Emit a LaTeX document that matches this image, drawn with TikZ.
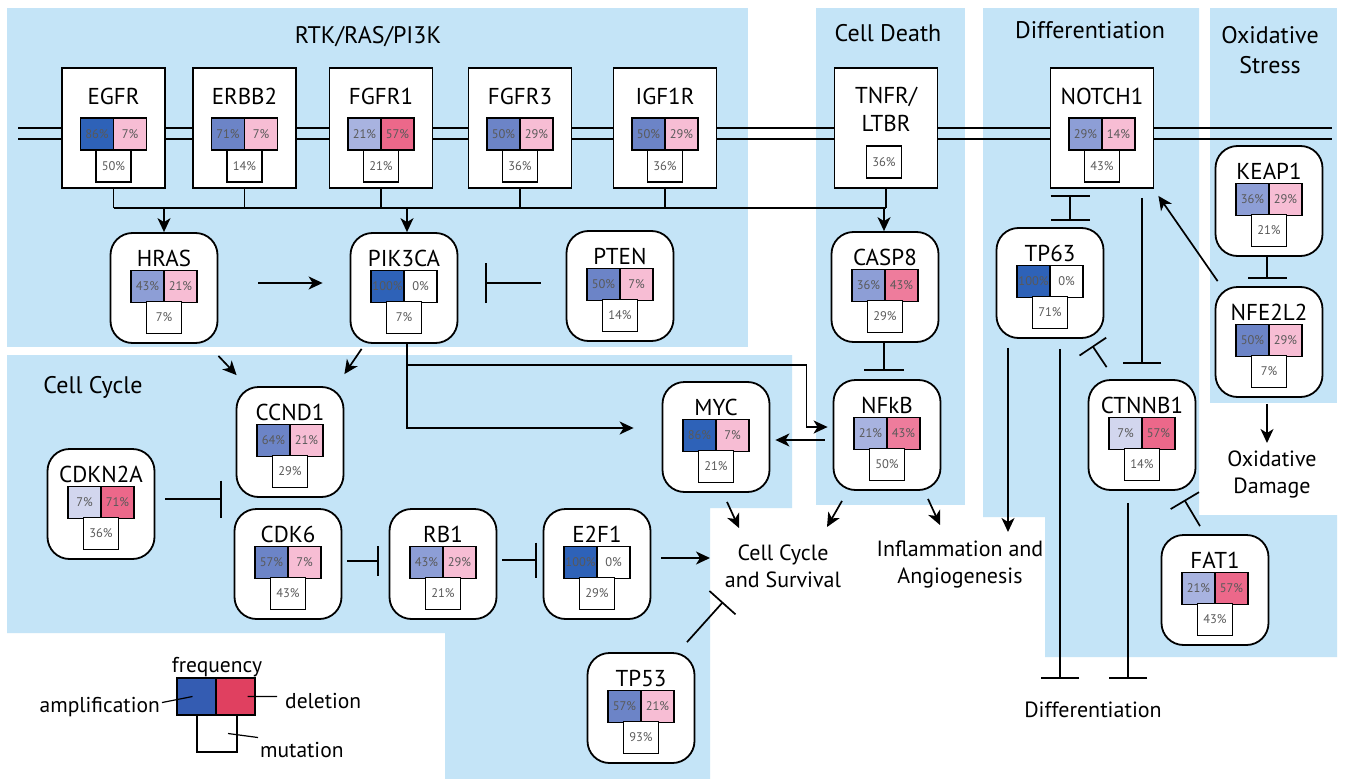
\documentclass[tikz,border=0pt]{standalone}
\usepackage{fontspec}
\setmainfont{PT Sans}
\usetikzlibrary{arrows.meta,calc}
\definecolor{bg}{RGB}{196,228,247}
\definecolor{aA}{RGB}{46,98,184}
\definecolor{aB}{RGB}{108,132,199}
\definecolor{aC}{RGB}{141,158,214}
\definecolor{aD}{RGB}{168,179,224}
\definecolor{aE}{RGB}{210,214,238}
\definecolor{dA}{RGB}{236,104,138}
\definecolor{dB}{RGB}{238,124,156}
\definecolor{dC}{RGB}{247,189,212}
\definecolor{legB}{RGB}{52,92,178}
\definecolor{legR}{RGB}{224,64,96}
\tikzset{
  rnode/.style={draw, fill=white, line width=1.8pt, rounded corners=22pt, minimum width=107pt, minimum height=110pt, inner sep=0pt},
  snode/.style={draw, fill=white, line width=1.8pt, minimum width=103pt, minimum height=120pt, inner sep=0pt},
  gtitle/.style={font=\fontsize{23}{23}\selectfont, inner sep=0pt, anchor=base},
  half/.style={draw, line width=1.5pt, minimum width=33pt, minimum height=32pt, inner sep=0pt, font=\fontsize{12.5}{12.5}\selectfont, text=black!65},
  mbox/.style={half, fill=white, minimum width=35pt},
  ln/.style={line width=1.7pt},
  arr/.style={ln, -{Stealth[length=14pt,width=13pt,inset=4pt]}},
  inh/.style={ln, -{Bar[width=#1,line width=1.7pt]}},
  inh/.default=38pt,
  ttl/.style={font=\fontsize{24}{24}\selectfont, inner sep=0pt, anchor=base},
  lbl/.style={font=\fontsize{22}{22}\selectfont, inner sep=0pt, anchor=base},
  leg/.style={font=\fontsize{21.5}{21.5}\selectfont, inner sep=0pt},
  legbox/.style={draw, line width=1.6pt, minimum width=39pt, minimum height=37pt, inner sep=0pt},
  legln/.style={line width=1.2pt},
  memb/.style={line width=1.8pt}
}
\newcommand{\rgene}[8]{%
  \node[rnode] (#1) at (#2) {};
  \node[gtitle] (#1-t) at ($(#1.north)+(0,34)$) {#3};
  \node[half, fill=#4] (#1-a) at ($(#1.north)+(-16.5,54.5)$) {#5};
  \node[half, fill=#6] (#1-d) at ($(#1.north)+(16.5,54.5)$) {#7};
  \node[mbox] (#1-m) at ($(#1.north)+(0,85.5)$) {#8};
}
\newcommand{\sgene}[8]{%
  \node[snode] (#1) at (#2) {};
  \node[gtitle] (#1-t) at ($(#1.north)+(0,37)$) {#3};
  \node[half, fill=#4] (#1-a) at ($(#1.north)+(-16.5,67)$) {#5};
  \node[half, fill=#6] (#1-d) at ($(#1.north)+(16.5,67)$) {#7};
  \node[mbox] (#1-m) at ($(#1.north)+(0,99)$) {#8};
}
\begin{document}
\begin{tikzpicture}[x=1pt,y=-1pt]
\useasboundingbox (0,0) rectangle (1345,779);
\fill[white] (0,0) rectangle (1345,779);
% regions
\fill[bg] (7,8) rectangle (748,347);
\fill[bg] (816,8) rectangle (965,505);
\fill[bg] (7,355) -- (792,355) -- (792,508) -- (710,508) -- (710,779) -- (445,779) -- (445,633) -- (7,633) -- cycle;
\fill[bg] (983,8) -- (1199,8) -- (1199,515) -- (1337,515) -- (1337,657) -- (1045,657) -- (1045,517) -- (983,517) -- cycle;
\fill[bg] (1210,8) rectangle (1337,403);
% region titles
\node[ttl] (tRTK) at (368,43) {RTK/RAS/PI3K};
\node[ttl] (tCD) at (888,41) {Cell Death};
\node[ttl] (tDIF) at (1090,38) {Differentiation};
\node[ttl] (tOX1) at (1270,43) {Oxidative};
\node[ttl] (tOX2) at (1270,73) {Stress};
\node[ttl] (tCC) at (93,393) {Cell Cycle};
% membrane
\coordinate (m1a) at (18,128); \coordinate (m1b) at (1332,128);
\coordinate (m2a) at (18,139); \coordinate (m2b) at (1332,139);
\draw[memb] (m1a) -- (m1b);
\draw[memb] (m2a) -- (m2b);
% receptors
\sgene{EGFR}{113.5,128}{EGFR}{aA}{86\%}{dC}{7\%}{50\%}
\sgene{ERBB2}{244.5,128}{ERBB2}{aB}{71\%}{dC}{7\%}{14\%}
\sgene{FGFR1}{381,128}{FGFR1}{aD}{21\%}{dA}{57\%}{21\%}
\sgene{FGFR3}{520,128}{FGFR3}{aB}{50\%}{dC}{29\%}{36\%}
\sgene{IGF1R}{665,128}{IGF1R}{aB}{50\%}{dC}{29\%}{36\%}
\sgene{NOTCH1}{1102,128}{NOTCH1}{aC}{29\%}{dC}{14\%}{43\%}
\node[snode] (TNFR) at (886,128) {};
\node[gtitle] (TNFR-t1) at ($(TNFR.north)+(0,36)$) {TNFR/};
\node[gtitle] (TNFR-t2) at ($(TNFR.north)+(0,64)$) {LTBR};
\node[mbox] (TNFR-m) at ($(TNFR.north)+(-2,95)$) {36\%};
% other genes
\rgene{HRAS}{164,288}{HRAS}{aC}{43\%}{dC}{21\%}{7\%}
\rgene{PIK3CA}{404,288}{PIK3CA}{aA}{100\%}{white}{0\%}{7\%}
\rgene{PTEN}{620,286}{PTEN}{aB}{50\%}{dC}{7\%}{14\%}
\rgene{CASP8}{885,287}{CASP8}{aC}{36\%}{dB}{43\%}{29\%}
\rgene{TP63}{1050,283}{TP63}{aA}{100\%}{white}{0\%}{71\%}
\rgene{KEAP1}{1269,201}{KEAP1}{aC}{36\%}{dC}{29\%}{21\%}
\rgene{NFE2L2}{1269,342}{NFE2L2}{aB}{50\%}{dC}{29\%}{7\%}
\rgene{CCND1}{290,442}{CCND1}{aB}{64\%}{dC}{21\%}{29\%}
\rgene{CDKN2A}{101,504}{CDKN2A}{aE}{7\%}{dA}{71\%}{36\%}
\rgene{CDK6}{288,564}{CDK6}{aB}{57\%}{dC}{7\%}{43\%}
\rgene{RB1}{443,564}{RB1}{aC}{43\%}{dC}{29\%}{21\%}
\rgene{E2F1}{597,564}{E2F1}{aA}{100\%}{white}{0\%}{29\%}
\rgene{MYC}{716,437}{MYC}{aA}{86\%}{dC}{7\%}{21\%}
\rgene{NFkB}{887,435}{NFkB}{aD}{21\%}{dB}{43\%}{50\%}
\rgene{CTNNB1}{1142,435}{CTNNB1}{aE}{7\%}{dA}{57\%}{14\%}
\rgene{FAT1}{1215,590}{FAT1}{aD}{21\%}{dA}{57\%}{43\%}
\rgene{TP53}{641,708}{TP53}{aB}{57\%}{dC}{21\%}{93\%}
% outcome labels
\node[lbl] (CCS1) at (783,560) {Cell Cycle};
\node[lbl] (CCS2) at (783,587) {and Survival};
\node[lbl] (INF1) at (960,556) {Inflammation and};
\node[lbl] (INF2) at (960,583) {Angiogenesis};
\node[lbl] (OXD1) at (1272,466) {Oxidative};
\node[lbl] (OXD2) at (1272,493) {Damage};
\node[lbl] (DIF) at (1093,717) {Differentiation};
\coordinate (ccsW) at (710,558);
\coordinate (ccsN1) at (739,528);
\coordinate (ccsN2) at (827,527);
\coordinate (ccsS) at (723,602);
\coordinate (infN) at (940,525);
\coordinate (infE) at (1008,532);
\coordinate (oxdN) at (1267,443);
\coordinate (dif1) at (1060,679);
\coordinate (dif2) at (1128,679);
% receptor bus
\coordinate (bus) at (0,208);
\foreach \r in {EGFR,ERBB2,FGFR1,FGFR3,IGF1R,TNFR} \draw[ln] (\r.south) -- (\r.south |- bus);
\draw[ln] (EGFR.south |- bus) -- (TNFR.south |- bus);
\draw[arr] (HRAS.north |- bus) -- (HRAS.north);
\draw[arr] ($(PIK3CA.north |- bus)+(3,0)$) -- ($(PIK3CA.north)+(3,0)$);
\draw[arr] ($(CASP8.north |- bus)+(-1,0)$) -- ($(CASP8.north)+(-1,0)$);
% RTK section
\draw[arr] ($(HRAS.east)+(40,-5)$) -- ($(PIK3CA.west)+(-27,-5)$);
\draw[inh=40pt] ($(PTEN.west)+(-25,-3)$) -- ($(PIK3CA.east)+(27,-5)$);
\draw[arr] ($(HRAS.south east)+(0,12)$) -- ($(CCND1.north west)+(1,-11)$);
\draw[arr] ($(PIK3CA.south west)+(12,5)$) -- ($(CCND1.north east)+(0,-12)$);
\draw[arr] ($(PIK3CA.south)+(3,0)$) |- ($(MYC.west)+(-28,-9)$);
\draw[arr] ($(PIK3CA.south)+(3,21)$) -| ($(NFkB.west)+(-26,-8)$) -- ($(NFkB.west)+(-5,-8)$);
\draw[arr] ($(NFkB.west)+(-8,5)$) -- ($(MYC.east)+(5,3)$);
\draw[inh=40pt] ($(CASP8.south)+(-1,0)$) -- ($(NFkB.north)+(-3,-8)$);
% cell cycle
\draw[inh=37pt] ($(CDKN2A.east)+(10,-5)$) -- ($($(CDK6.west)!0.5!(CCND1.west)$)+(-13,-4)$);
\draw[inh=30pt] ($(CDK6.east)+(5,-3)$) -- ($(RB1.west)+(-10,-3)$);
\draw[inh=35pt] ($(RB1.east)+(5,-4)$) -- ($(E2F1.west)+(-6,-4)$);
\draw[arr] ($(E2F1.east)+(10,-6)$) -- (ccsW);
\draw[arr] ($(MYC.south)+(11,9)$) -- (ccsN1);
\draw[arr] ($(NFkB.south)+(-45,10)$) -- (ccsN2);
\draw[arr] ($(NFkB.south)+(41,8)$) -- (infN);
\draw[inh=35pt] ($(TP53.north)+(46,-10)$) -- (ccsS);
% differentiation
\draw[ln, {Bar[width=39pt,line width=1.7pt]}-{Bar[width=39pt,line width=1.7pt]}] ($(NOTCH1.south)+(-32,6)$) -- ($(TP63.north)+(20,-6)$);
\draw[inh=38pt] ($(NOTCH1.south)+(40,9)$) -- ($(CTNNB1.north)+(0,-15)$);
\draw[arr] ($(NFE2L2.north west)+(3,-5)$) -- ($(NOTCH1.south east)+(4,7)$);
\draw[inh=39pt] ($(KEAP1.south)+(-2,0)$) -- ($(NFE2L2.north)+(-2,-7)$);
\draw[arr] ($(NFE2L2.south)+(-2,6)$) -- (oxdN);
\draw[inh=32pt] ($(CTNNB1.north west)+(19,-12)$) -- ($(TP63.south east)+(-12,7)$);
\draw[arr] ($(TP63.south)+(-42,9)$) -- (infE);
\draw[inh=38pt] ($(TP63.south)+(10,10)$) -- (dif1);
\draw[inh=38pt] ($(CTNNB1.south)+(-14,12)$) -- (dif2);
\draw[inh=33pt] ($(FAT1.north)+(-15,-8)$) -- ($(CTNNB1.south east)+(-12,9)$);
% legend
\node[leg, anchor=base] (LGf) at (217,672) {frequency};
\node[legbox, fill=legB] (LEGa) at (196.5,696.5) {};
\node[legbox, fill=legR] (LEGd) at (235.5,696.5) {};
\node[legbox, fill=white, minimum width=40pt] (LEGm) at (217,733.5) {};
\node[leg, anchor=base east] (LGa) at (160,712) {amplification};
\node[leg, anchor=base west] (LGd) at (285,708) {deletion};
\node[leg, anchor=base west] (LGm) at (260,757) {mutation};
\draw[legln] ($(LGa.east)+(2,-4)$) -- ($(LEGa.center)+(-4,0)$);
\draw[legln] ($(LEGd.center)+(12,0)$) -- ($(LGd.west)+(-8,-4)$);
\draw[legln] ($(LEGm.center)+(11,0)$) -- ($(LGm.west)+(-2,-12)$);
\end{tikzpicture}
\end{document}
